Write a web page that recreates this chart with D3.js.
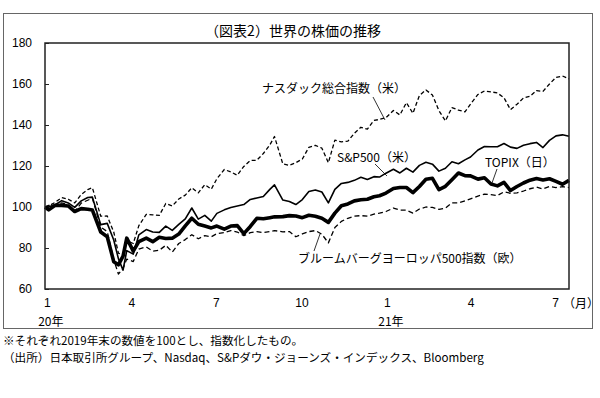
<!DOCTYPE html>
<html>
<head>
<meta charset="utf-8">
<script src="https://cdn.jsdelivr.net/npm/d3@7"></script>
<style>
  body { margin: 0; background: #fff; }
  svg { display: block; }
</style>
</head>
<body>
<div id="container"></div>
<script>
// weekly dates (index, end of 2019 = 100)
var dates = ["2019-12-30","2020-01-03","2020-01-10","2020-01-17","2020-01-24","2020-01-31","2020-02-07","2020-02-14","2020-02-19","2020-02-28",
  "2020-03-06","2020-03-13","2020-03-18","2020-03-23","2020-03-27","2020-04-03","2020-04-09","2020-04-17","2020-04-24","2020-05-01",
  "2020-05-08","2020-05-15","2020-05-22","2020-05-29","2020-06-05","2020-06-12","2020-06-19","2020-06-26","2020-07-02","2020-07-10",
  "2020-07-17","2020-07-24","2020-07-31","2020-08-07","2020-08-14","2020-08-21","2020-08-28","2020-09-02","2020-09-11","2020-09-18",
  "2020-09-25","2020-10-02","2020-10-09","2020-10-16","2020-10-23","2020-10-30","2020-11-06","2020-11-13","2020-11-20","2020-11-27",
  "2020-12-04","2020-12-11","2020-12-18","2020-12-24","2020-12-31","2021-01-08","2021-01-15","2021-01-22","2021-01-29","2021-02-05",
  "2021-02-12","2021-02-19","2021-02-26","2021-03-05","2021-03-12","2021-03-19","2021-03-26","2021-04-01","2021-04-09","2021-04-16",
  "2021-04-23","2021-04-30","2021-05-07","2021-05-14","2021-05-21","2021-05-28","2021-06-04","2021-06-11","2021-06-18","2021-06-25",
  "2021-07-02","2021-07-09","2021-07-16"];

var nasdaq = [100,100.5,102.3,104.6,103.8,102.0,106.1,108.5,109.4,95.5,
  95.6,87.8,77.5,76.5,83.6,82.2,90.9,96.4,96.2,95.9,
  101.7,100.5,103.9,105.8,109.4,106.9,110.9,108.7,113.8,118.3,
  117.1,115.5,119.8,122.7,122.8,126.1,130.3,134.4,121.0,120.3,
  121.6,123.4,129.1,130.1,128.7,121.6,132.6,131.8,132.1,136.0,
  138.9,138.0,142.2,142.7,143.6,147.1,144.9,150.9,145.7,154.4,
  157.1,154.6,147.0,142.0,148.5,147.3,146.4,150.2,154.9,156.6,
  156.2,155.6,153.3,147.5,150.1,153.2,154.0,156.8,156.4,160.0,
  163.2,163.9,162.5];

var sp500 = [100,100.1,101.1,103.1,102.0,99.8,103.0,104.6,104.8,91.4,
  92.0,83.9,74.8,69.2,78.7,77.0,86.4,89.0,87.8,87.6,
  90.7,88.6,91.5,94.2,99.5,94.1,95.9,93.1,96.9,98.6,
  99.8,100.5,101.2,103.7,104.4,105.1,108.6,110.8,103.4,102.7,
  101.2,103.6,107.6,108.3,107.3,102.0,108.6,111.5,112.0,113.0,
  114.5,113.4,114.8,114.6,116.5,118.4,116.6,118.9,117.0,120.3,
  121.8,120.9,117.5,118.9,122.1,121.1,123.0,124.4,127.8,129.5,
  129.4,129.4,131.0,129.2,128.6,130.1,130.9,131.5,129.0,132.5,
  134.7,135.2,134.5];

var topix = [100,98.6,100.8,100.8,100.5,97.8,99.2,98.9,98.5,87.8,
  85.5,73.3,71.8,76.0,84.8,78.5,83.1,84.8,83.1,85.2,
  84.6,84.8,86.8,90.8,94.5,91.6,90.7,89.8,90.7,89.2,
  90.7,90.9,87.0,90.5,94.5,94.3,94.8,95.2,95.3,95.8,
  95.6,94.8,96.0,95.5,94.5,92.5,97.0,100.6,101.5,103.0,
  103.5,103.8,105.0,105.5,106.8,109.0,109.5,109.5,107.0,110.0,
  113.5,114.0,108.5,110.1,113.3,116.6,115.3,115.2,113.6,114.3,
  111.2,110.3,112.0,108.0,110.0,111.7,113.1,113.9,113.2,113.8,
  112.5,111.1,113.0];

var europe = [100,100.8,101.0,102.0,101.0,97.8,101.9,103.3,104.3,90.2,
  88.0,74.3,67.3,70.0,74.6,73.4,79.5,80.5,78.5,78.9,
  81.3,78.0,82.2,84.1,86.5,84.5,86.0,85.5,87.0,87.5,
  88.5,87.8,86.0,87.5,88.0,87.5,88.0,88.5,87.9,88.0,
  85.5,86.9,88.0,88.5,86.7,82.5,90.0,93.0,94.5,95.5,
  95.8,95.5,96.5,97.0,97.8,99.5,98.5,98.5,97.0,99.0,
  100.0,99.8,98.8,99.5,102.0,102.0,103.0,104.0,105.3,106.3,
  106.0,105.6,107.4,106.7,106.9,107.8,108.9,109.7,108.8,110.0,
  109.5,109.9,109.5];

var yTicks = [60, 80, 100, 120, 140, 160, 180];
var xTickDates = ["2020-01-01","2020-04-01","2020-07-01","2020-10-01","2021-01-01","2021-04-01","2021-07-01"];
var yearLabels = [{d: "2020-01-01", t: "20年"}, {d: "2021-01-01", t: "21年"}];

var W = 600, H = 398;
var plot = {left: 45, right: 569, top: 43, bottom: 289};
var parse = d3.timeParse("%Y-%m-%d");
var jp = "'Noto Sans CJK JP', sans-serif";

var svg = d3.select("#container")
  .append("svg")
    .attr("width", W)
    .attr("height", H);

svg.append("rect").attr("width", W).attr("height", H).attr("fill", "#fff");

// outer frame
svg.append("rect")
  .attr("x", 3.5).attr("y", 13.5)
  .attr("width", 589).attr("height", 315)
  .attr("fill", "none").attr("stroke", "#666").attr("stroke-width", 1);

var x = d3.scaleTime()
  .domain([parse("2019-12-30"), parse("2021-07-16")])
  .range([plot.left, plot.right]);

var y = d3.scaleLinear()
  .domain([60, 180])
  .range([plot.bottom, plot.top]);

// title
svg.append("text")
  .attr("x", 293).attr("y", 36)
  .attr("text-anchor", "middle")
  .style("font-family", jp).style("font-size", "14px")
  .text("（図表2）世界の株価の推移");

// Y axis
var yAxis = svg.append("g")
  .attr("transform", "translate(" + plot.left + ",0)")
  .call(d3.axisLeft(y).tickValues(yTicks).tickSize(-4).tickPadding(13));
yAxis.select(".domain").remove();
yAxis.selectAll("line").attr("stroke", "#222");
yAxis.selectAll("text")
  .style("font-family", "'Liberation Sans', Arial, sans-serif")
  .style("font-size", "12px")
  .attr("fill", "#000");

// X axis
var xAxis = svg.append("g")
  .attr("transform", "translate(0," + plot.bottom + ")")
  .call(d3.axisBottom(x)
    .tickValues(xTickDates.map(parse))
    .tickFormat(d3.timeFormat("%-m"))
    .tickSize(0).tickPadding(9));
xAxis.select(".domain").remove();
xAxis.selectAll("text")
  .style("font-family", "'Liberation Sans', Arial, sans-serif")
  .style("font-size", "12px")
  .attr("fill", "#000");

svg.append("text")
  .attr("x", x(parse("2021-07-01")) + 8).attr("y", 308)
  .style("font-family", jp).style("font-size", "12px")
  .text("（月）");

svg.selectAll(".year")
  .data(yearLabels)
  .enter().append("text")
    .attr("class", "year")
    .attr("x", function(d) { return x(parse(d.d)) + 4; })
    .attr("y", 326)
    .attr("text-anchor", "middle")
    .style("font-family", jp).style("font-size", "12px")
    .text(function(d) { return d.t; });

// lines
var series = [
  {values: europe, width: 1.3, dash: "5,3"},
  {values: nasdaq, width: 1.3, dash: "4,2.5"},
  {values: sp500, width: 1.6, dash: null},
  {values: topix, width: 3.6, dash: null}
];

var line = d3.line()
  .x(function(d) { return x(d.date); })
  .y(function(d) { return y(d.v); });

series.forEach(function(s) {
  var pts = dates.map(function(d, i) { return {date: parse(d), v: s.values[i]}; });
  svg.append("path")
    .datum(pts)
    .attr("fill", "none")
    .attr("stroke", "#000")
    .attr("stroke-width", s.width)
    .attr("stroke-linejoin", "round")
    .attr("stroke-dasharray", s.dash)
    .attr("d", line);
});

// plot frame
svg.append("rect")
  .attr("x", plot.left).attr("y", plot.top)
  .attr("width", plot.right - plot.left).attr("height", plot.bottom - plot.top)
  .attr("fill", "none").attr("stroke", "#222").attr("stroke-width", 1.5);

// labels with leader lines
var labels = [
  {t: "ナスダック総合指数（米）", x: 262, y: 93, l: [373, 97, 385, 120]},
  {t: "S&P500（米）", x: 337, y: 162, l: [375, 164, 387, 176]},
  {t: "TOPIX（日）", x: 485, y: 167, l: [497, 169, 492, 183]},
  {t: "ブルームバーグヨーロッパ500指数（欧）", x: 298, y: 263, l: [314, 251, 320, 234]}
];
labels.forEach(function(d) {
  svg.append("line")
    .attr("x1", d.l[0]).attr("y1", d.l[1]).attr("x2", d.l[2]).attr("y2", d.l[3])
    .attr("stroke", "#000").attr("stroke-width", 0.8);
  svg.append("text")
    .attr("x", d.x).attr("y", d.y)
    .style("font-family", jp).style("font-size", "12px")
    .text(d.t);
});

// notes
svg.append("text")
  .attr("x", 3).attr("y", 344.5)
  .style("font-family", jp).style("font-size", "11.6px")
  .text("※それぞれ2019年末の数値を100とし、指数化したもの。");
svg.append("text")
  .attr("x", 3).attr("y", 361.5)
  .style("font-family", jp).style("font-size", "11.6px")
  .text("（出所）日本取引所グループ、Nasdaq、S&Pダウ・ジョーンズ・インデックス、Bloomberg");
</script>
</body>
</html>
